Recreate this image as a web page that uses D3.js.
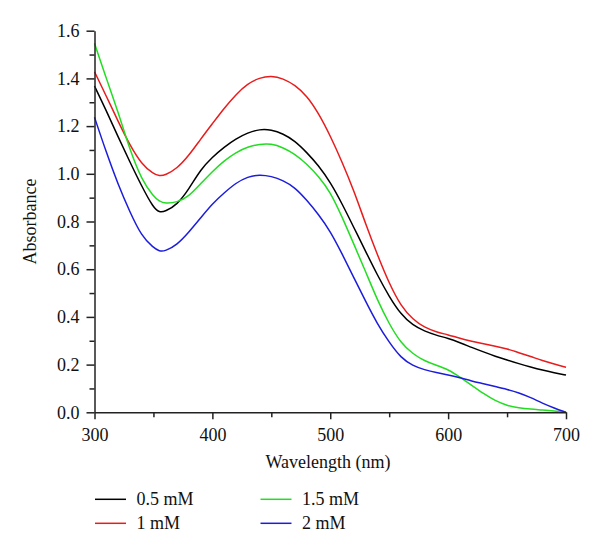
<!DOCTYPE html>
<html>
<head>
<meta charset="utf-8">
<script src="https://cdn.jsdelivr.net/npm/d3@7"></script>
<style>
  html, body { margin: 0; padding: 0; background: #fff; }
  svg text { font-family: "Liberation Serif", "DejaVu Serif", serif; fill: #111; }
</style>
</head>
<body>
<svg id="chart" width="600" height="556"></svg>
<script>
// ---- data ----
const wavelengths = [300,310,320,330,340,350,355,360,370,380,390,400,410,420,430,440,450,460,470,480,490,500,510,520,530,540,550,560,570,580,590,600,610,620,630,640,650,660,670,680,690,700];
const seriesNames = ["0.5 mM", "1 mM", "1.5 mM", "2 mM"];
const conc05 = [1.368,1.265,1.155,1.05,0.948,0.857,0.838,0.842,0.87,0.935,1.018,1.07,1.112,1.147,1.172,1.187,1.185,1.168,1.138,1.09,1.035,0.965,0.875,0.775,0.675,0.575,0.485,0.41,0.365,0.34,0.323,0.31,0.292,0.272,0.253,0.235,0.219,0.204,0.19,0.177,0.166,0.156];
const conc1  = [1.428,1.326,1.22,1.12,1.04,1.0,0.991,0.994,1.022,1.076,1.145,1.21,1.275,1.333,1.378,1.403,1.411,1.4,1.372,1.328,1.255,1.16,1.05,0.93,0.79,0.66,0.54,0.445,0.39,0.355,0.337,0.325,0.31,0.298,0.287,0.277,0.266,0.25,0.234,0.217,0.202,0.189];
const conc15 = [1.547,1.40,1.26,1.10,0.975,0.905,0.885,0.875,0.88,0.905,0.958,1.01,1.055,1.09,1.113,1.125,1.127,1.11,1.083,1.042,0.99,0.925,0.82,0.705,0.59,0.47,0.37,0.29,0.245,0.215,0.197,0.18,0.148,0.113,0.078,0.048,0.028,0.018,0.013,0.01,0.006,0.0];
const conc2  = [1.237,1.09,0.955,0.84,0.738,0.69,0.675,0.676,0.702,0.755,0.815,0.875,0.92,0.962,0.988,0.997,0.99,0.972,0.943,0.89,0.83,0.76,0.665,0.565,0.465,0.37,0.293,0.228,0.195,0.178,0.166,0.157,0.145,0.131,0.12,0.108,0.096,0.082,0.062,0.038,0.018,0.0];
const xTicks = [300,400,500,600,700];
const xMinorTicks = [350,450,550,650];
const yTicks = [0.0,0.2,0.4,0.6,0.8,1.0,1.2,1.4,1.6];
const yMinorTicks = [0.1,0.3,0.5,0.7,0.9,1.1,1.3,1.5];
const colors = ["#000000", "#e81c1c", "#22dd22", "#1c1cdd"];

const allSeries = [conc05, conc1, conc15, conc2];

// ---- layout ----
const svg = d3.select("#chart");
const L = 94.5, R = 566, T = 30.7, B = 412.3;
const x = d3.scaleLinear().domain([300, 700]).range([L, R]);
const y = d3.scaleLinear().domain([0, 1.6]).range([B, T]);

// curves
const line = d3.line()
  .x((d, i) => x(wavelengths[i]))
  .y(d => y(d))
  .curve(d3.curveBasis);

const plot = svg.append("g");
allSeries.forEach((s, k) => {
  plot.append("path")
    .datum(s)
    .attr("d", line)
    .attr("fill", "none")
    .attr("stroke", colors[k])
    .attr("stroke-width", 1.5);
});

// axes
const fs = "18px";
const xAxis = svg.append("g").attr("transform", `translate(0,${B})`)
  .call(d3.axisBottom(x).tickValues(xTicks).tickSize(7).tickPadding(9).tickSizeOuter(0).tickFormat(d3.format("d")));
const xMinor = svg.append("g").attr("transform", `translate(0,${B})`)
  .call(d3.axisBottom(x).tickValues(xMinorTicks).tickSize(5).tickSizeOuter(0).tickFormat(""));
const yAxis = svg.append("g").attr("transform", `translate(${L},0)`)
  .call(d3.axisLeft(y).tickValues(yTicks).tickSize(8).tickPadding(7).tickSizeOuter(0).tickFormat(d3.format(".1f")));
const yMinor = svg.append("g").attr("transform", `translate(${L},0)`)
  .call(d3.axisLeft(y).tickValues(yMinorTicks).tickSize(5).tickSizeOuter(0).tickFormat(""));

[xAxis, xMinor, yAxis, yMinor].forEach(g => {
  g.selectAll("path.domain").attr("stroke", "#222").attr("stroke-width", 1.5);
  g.selectAll(".tick line").attr("stroke", "#222").attr("stroke-width", 1.5);
  g.selectAll("text").style("font-family", '"Liberation Serif", "DejaVu Serif", serif').style("font-size", fs).attr("fill", "#111");
});
xMinor.select("path.domain").remove();
yMinor.select("path.domain").remove();

// axis titles
svg.append("text")
  .attr("x", 328).attr("y", 468)
  .attr("text-anchor", "middle")
  .style("font-size", fs)
  .text("Wavelength (nm)");
svg.append("text")
  .attr("transform", `translate(36,${(T + B) / 2}) rotate(-90)`)
  .attr("text-anchor", "middle")
  .style("font-size", fs)
  .text("Absorbance");

// legend
const legendPos = [[95, 499.3], [95, 523.3], [260.5, 499.3], [260.5, 523.3]];
seriesNames.forEach((name, k) => {
  const [lx, ly] = legendPos[k];
  svg.append("line")
    .attr("x1", lx).attr("x2", lx + 31)
    .attr("y1", ly).attr("y2", ly)
    .attr("stroke", colors[k]).attr("stroke-width", 1.5);
  svg.append("text")
    .attr("x", lx + 41.5).attr("y", ly + 5.7)
    .style("font-size", fs)
    .text(name);
});
</script>
</body>
</html>
